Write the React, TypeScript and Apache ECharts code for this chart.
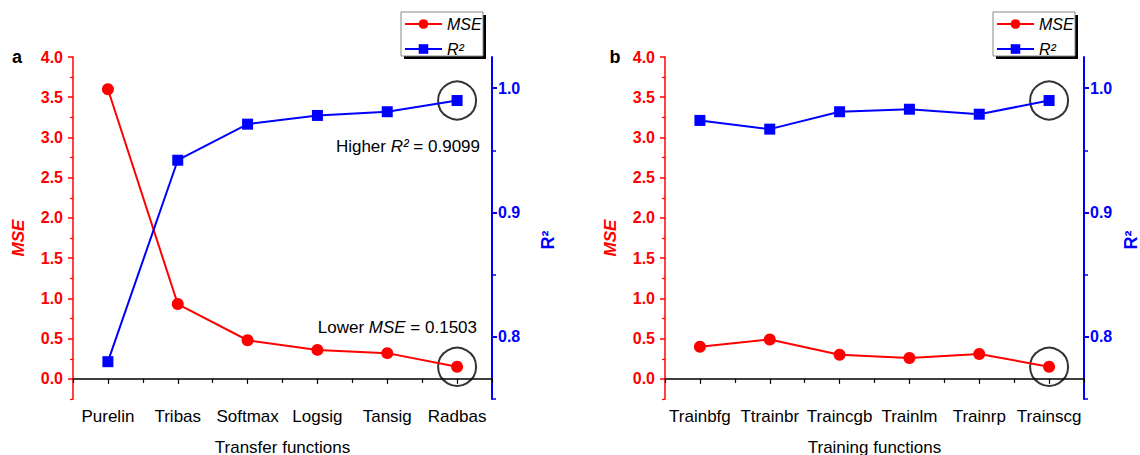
import React, { useEffect, useRef } from "react";
import * as echarts from "echarts";

// ---- data ----
const transferFunctions = ["Purelin", "Tribas", "Softmax", "Logsig", "Tansig", "Radbas"];
const transferMSE = [3.6, 0.93, 0.48, 0.36, 0.32, 0.15];
const transferR2 = [0.78, 0.942, 0.971, 0.978, 0.981, 0.99];

const trainingFunctions = ["Trainbfg", "Ttrainbr", "Traincgb", "Trainlm", "Trainrp", "Trainscg"];
const trainingMSE = [0.4, 0.49, 0.3, 0.26, 0.31, 0.15];
const trainingR2 = [0.974, 0.967, 0.981, 0.983, 0.979, 0.99];

const mseMajorTicks = [0, 0.5, 1, 1.5, 2, 2.5, 3, 3.5, 4];
const mseMinorTicks = [-0.25, 0.25, 0.75, 1.25, 1.75, 2.25, 2.75, 3.25, 3.75];
const r2MajorTicks = [0.8, 0.9, 1.0];
const r2MinorTicks = [0.75, 0.85, 0.95];

const bestIndex = 5;
const panelLetters = ["a", "b"];
const xTitles = ["Transfer functions", "Training functions"];

const FONT = "Liberation Sans, Arial, sans-serif";
const RED = "#ff0000";
const BLUE = "#0000ff";

export default function App() {
  const ref = useRef<HTMLDivElement | null>(null);

  useEffect(() => {
    if (!ref.current) return;
    const chart = echarts.init(ref.current, undefined, { renderer: "svg" });

    const panels = [
      { cats: transferFunctions, mse: transferMSE, r2: transferR2, left: 73, letterX: 17, r2TitleX: 548 },
      { cats: trainingFunctions, mse: trainingMSE, r2: trainingR2, left: 665, letterX: 615, r2TitleX: 1131 },
    ];
    const gridW = 419;
    const gridTop = 57;
    const gridH = 342;

    const grid: any[] = [];
    const xAxis: any[] = [];
    const yAxis: any[] = [];
    const series: any[] = [];
    const legend: any[] = [];
    const graphic: any[] = [];

    panels.forEach((p, g) => {
      grid.push({ left: p.left, top: gridTop, width: gridW, height: gridH, containLabel: false });
      xAxis.push({
        type: "category",
        gridIndex: g,
        data: p.cats,
        boundaryGap: true,
        position: "bottom",
        axisLine: { show: true, lineStyle: { color: "#000", width: 1.5 } },
        axisTick: { show: true, alignWithLabel: true, length: 5, lineStyle: { color: "#000", width: 1.2 } },
        axisLabel: { color: "#000", fontSize: 17, fontFamily: FONT, margin: 9, interval: 0 },
        splitLine: { show: false },
      });
      xAxis.push({
        type: "category",
        gridIndex: g,
        data: p.cats,
        boundaryGap: true,
        position: "bottom",
        axisLine: { show: false },
        axisTick: { show: true, alignWithLabel: false, length: 4, interval: 0, lineStyle: { color: "#000", width: 1.2 } },
        axisLabel: { show: false },
        splitLine: { show: false },
      });
      // MSE major
      yAxis.push({
        type: "value",
        gridIndex: g,
        position: "left",
        min: -0.25,
        max: 4,
        axisLine: { show: true, lineStyle: { color: RED, width: 1.5 } },
        axisTick: { show: true, length: 5, customValues: mseMajorTicks, lineStyle: { color: RED, width: 1.5 } },
        axisLabel: {
          customValues: mseMajorTicks,
          color: RED,
          fontWeight: "bold",
          fontSize: 16,
          fontFamily: FONT,
          margin: 10,
          formatter: (v: number) => v.toFixed(1),
        },
        splitLine: { show: false },
      });
      // MSE minor
      yAxis.push({
        type: "value",
        gridIndex: g,
        position: "left",
        offset: 0,
        min: -0.25,
        max: 4,
        axisLine: { show: false },
        axisTick: { show: true, length: 3, customValues: mseMinorTicks, lineStyle: { color: RED, width: 1.2 } },
        axisLabel: { show: false },
        splitLine: { show: false },
      });
      // R2 major
      yAxis.push({
        type: "value",
        gridIndex: g,
        position: "right",
        min: 0.75,
        max: 1.025,
        axisLine: { show: true, lineStyle: { color: BLUE, width: 2 } },
        axisTick: { show: true, length: 5, customValues: r2MajorTicks, lineStyle: { color: BLUE, width: 2 } },
        axisLabel: {
          customValues: r2MajorTicks,
          color: BLUE,
          fontWeight: "bold",
          fontSize: 16,
          fontFamily: FONT,
          margin: 6,
          formatter: (v: number) => v.toFixed(1),
        },
        splitLine: { show: false },
      });
      // R2 minor
      yAxis.push({
        type: "value",
        gridIndex: g,
        position: "right",
        offset: 0,
        min: 0.75,
        max: 1.025,
        axisLine: { show: false },
        axisTick: { show: true, length: 4, customValues: r2MinorTicks, lineStyle: { color: BLUE, width: 1.5 } },
        axisLabel: { show: false },
        splitLine: { show: false },
      });

      series.push({
        name: "MSE",
        type: "line",
        xAxisIndex: 2 * g,
        yAxisIndex: 4 * g,
        data: p.mse,
        symbol: "circle",
        symbolSize: 12,
        itemStyle: { color: RED },
        lineStyle: { color: RED, width: 2 },
        z: 3,
      });
      series.push({
        name: "R²",
        type: "line",
        xAxisIndex: 2 * g,
        yAxisIndex: 4 * g + 2,
        data: p.r2,
        symbol: "rect",
        symbolSize: 11,
        itemStyle: { color: BLUE },
        lineStyle: { color: BLUE, width: 2 },
        z: 3,
      });
      series.push({
        name: "best-mse",
        type: "scatter",
        xAxisIndex: 2 * g,
        yAxisIndex: 4 * g,
        data: [[bestIndex, p.mse[bestIndex]]],
        symbol: "circle",
        symbolSize: 38,
        silent: true,
        itemStyle: { color: "rgba(0,0,0,0)", borderColor: "#000", borderWidth: 2 },
        z: 2,
      });
      series.push({
        name: "best-r2",
        type: "scatter",
        xAxisIndex: 2 * g,
        yAxisIndex: 4 * g + 2,
        data: [[bestIndex, p.r2[bestIndex]]],
        symbol: "circle",
        symbolSize: 38,
        silent: true,
        itemStyle: { color: "rgba(0,0,0,0)", borderColor: "#000", borderWidth: 2 },
        z: 2,
      });

      const bx = p.left + 328;
      // legend box (shadow + frame)
      graphic.push({ type: "rect", shape: { x: bx + 3, y: 15, width: 82, height: 44 }, style: { fill: "#000" }, z: 1 });
      graphic.push({ type: "rect", shape: { x: bx, y: 12, width: 82, height: 44 }, style: { fill: "#fff", stroke: "#888", lineWidth: 1 }, z: 2 });
      legend.push({
        left: bx + 3,
        top: 16,
        padding: 0,
        orient: "vertical",
        data: ["MSE", "R²"],
        itemWidth: 37,
        itemHeight: 12,
        itemGap: 9,
        selectedMode: false,
        textStyle: { fontStyle: "italic", fontSize: 16, color: "#000", fontFamily: FONT, padding: [0, 0, 0, 0] },
        z: 10,
      });

      // panel letter
      graphic.push({
        type: "text",
        x: p.letterX,
        y: gridTop,
        style: { text: panelLetters[g], font: `bold 18px ${FONT}`, fill: "#000", align: "center", verticalAlign: "middle" },
        z: 5,
      });
      // y titles
      graphic.push({
        type: "text",
        x: p.left - 55,
        y: 238,
        rotation: Math.PI / 2,
        style: { text: "MSE", font: `italic bold 17px ${FONT}`, fill: RED, align: "center", verticalAlign: "middle" },
        z: 5,
      });
      graphic.push({
        type: "text",
        x: p.r2TitleX,
        y: 240,
        rotation: Math.PI / 2,
        style: { text: "R²", font: `bold 18px ${FONT}`, fill: BLUE, align: "center", verticalAlign: "middle" },
        z: 5,
      });
      // x title
      graphic.push({
        type: "text",
        x: p.left + gridW / 2,
        y: 447,
        style: { text: xTitles[g], font: `17px ${FONT}`, fill: "#000", align: "center", verticalAlign: "middle" },
        z: 5,
      });
    });

    // annotations in panel a
    graphic.push({
      type: "text",
      x: 480,
      y: 146,
      style: {
        text: "Higher {i|R²} = 0.9099",
        font: `17px ${FONT}`,
        fill: "#000",
        align: "right",
        verticalAlign: "middle",
        rich: { i: { fontStyle: "italic", fontSize: 17, fontFamily: FONT, fill: "#000" } },
      },
      z: 5,
    });
    graphic.push({
      type: "text",
      x: 477,
      y: 327,
      style: {
        text: "Lower {i|MSE} = 0.1503",
        font: `17px ${FONT}`,
        fill: "#000",
        align: "right",
        verticalAlign: "middle",
        rich: { i: { fontStyle: "italic", fontSize: 17, fontFamily: FONT, fill: "#000" } },
      },
      z: 5,
    });

    chart.setOption({
      animation: false,
      backgroundColor: "#fff",
      textStyle: { fontFamily: FONT },
      grid,
      xAxis,
      yAxis,
      legend,
      series,
      graphic,
    });

    return () => {
      chart.dispose();
    };
  }, []);

  return (
    <div
      ref={ref}
      style={{ position: "absolute", left: 0, top: 0, width: 1140, height: 455 }}
    />
  );
}
